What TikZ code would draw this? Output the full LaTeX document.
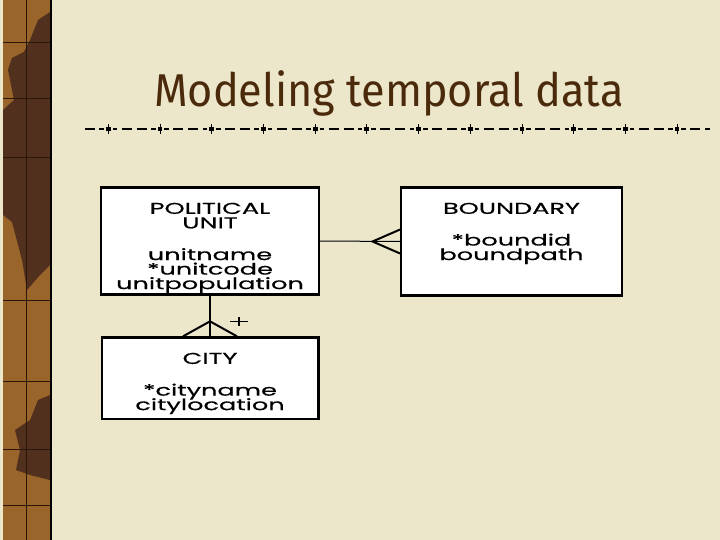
\documentclass[tikz,border=0pt]{standalone}
\usepackage{fontspec}
\setmainfont{Poppins}
\newfontfamily\boxfont[FakeStretch=1.63,FakeBold=0.5]{Poppins}
\newfontfamily\titlefont[FakeStretch=0.94]{Fira Sans}
\usetikzlibrary{positioning}
\setlength{\lineskiplimit}{-20pt}
\definecolor{paper}{HTML}{ECE6CB}
\definecolor{titlebrown}{HTML}{4A2A0A}
\definecolor{woodlight}{HTML}{9A652A}
\definecolor{wooddark}{HTML}{52301E}
\definecolor{woodline}{HTML}{2A160A}
\tikzset{
  entity/.style={draw=black,line width=2.4pt,fill=white,inner sep=0pt},
  entitytext/.style={font=\boxfont\fontsize{15.7}{14.5}\selectfont,
    align=center,inner sep=0pt,anchor=north},
  link/.style={line width=1pt},
  foot/.style={line width=2pt},
}

\begin{document}
\begin{tikzpicture}[x=1pt,y=-1pt]
    \useasboundingbox (0,0) rectangle (720,540);
    \fill[paper] (0,0) rectangle (720,540);
    % wooden strip
    \fill[woodlight] (3,0) rectangle (50,540);
    \fill[wooddark] (50,12) -- (38,20) -- (30,40) -- (24,52) -- (12,58) -- (8,70) -- (14,100)
        -- (3,110) -- (3,215) -- (12,222) -- (22,260) -- (27,290) -- (40,275) -- (50,265) -- cycle;
    \fill[wooddark] (50,395) -- (38,400) -- (30,420) -- (15,430) -- (20,450) -- (16,470)
        -- (30,475) -- (50,480) -- cycle;
    \draw[line width=1pt,woodline] (26,0) -- (26,540);
    \foreach \y in {43,99,158,300,381,449,505}
        \draw[line width=1pt,woodline] (3,\y) -- (50,\y);
    \draw[line width=2pt] (51,0) -- (51,540);
    % title
    \node[font=\titlefont\fontsize{46}{46}\selectfont,text=titlebrown,anchor=base,inner sep=0pt]
        (title) at (389,107) {Modeling temporal data};
    % rule under the title
    \draw[line width=1.3pt,dash pattern=on 10pt off 4.3pt on 4.6pt off 8.8pt on 4.6pt off 4.4pt on 10pt off 5pt]
        (85,129) -- (710,129);
    \foreach \i in {0,...,11} {
        \fill (108.3+51.7*\i-2.4,126.6) rectangle ++(4.8,4.8);
        \draw[line width=0.8pt] (108.3+51.7*\i,124) -- ++(0,10);
    }
    % entities
    \node[entity,minimum width=217.5pt,minimum height=107pt] (pu) at (210,241) {};
    \node[entity,minimum width=220.5pt,minimum height=108pt] (bd) at (511.5,241.5) {};
    \node[entity,minimum width=216.6pt,minimum height=81.5pt] (city) at (210,378.3) {};
    \node[entitytext] (pu-text) at ([yshift=-16.3pt]pu.north)
        {POLITICAL\\UNIT\\[17.2pt]unitname\\{*}unitcode\\unitpopulation};
    \node[entitytext] (bd-text) at ([yshift=-16.3pt]bd.north)
        {BOUNDARY\\[17.2pt]{*}boundid\\boundpath};
    \node[entitytext] (city-text) at ([yshift=-16.3pt]city.north)
        {CITY\\[17.2pt]{*}cityname\\citylocation};
    % relationships
    \coordinate (bd-apex) at ([xshift=-27.5pt]bd.west);
    \draw[link] (pu.east) -- (bd.west);
    \draw[foot] ([yshift=12pt]bd.west) -- (bd-apex) -- ([yshift=-12pt]bd.west);
    \coordinate (city-apex) at ([yshift=15pt]city.north);
    \coordinate (city-one) at ([xshift=29pt,yshift=15pt]city.north);
    \draw[foot] (pu.south) -- (city.north);
    \draw[foot] ([xshift=-27pt]city.north) -- (city-apex) -- ([xshift=27pt]city.north);
    \draw[line width=1.2pt] ([xshift=-9pt]city-one) -- ([xshift=9pt]city-one);
    \draw[line width=1.2pt] ([yshift=-4.5pt]city-one) -- ([yshift=4.5pt]city-one);
\end{tikzpicture}
\end{document}
